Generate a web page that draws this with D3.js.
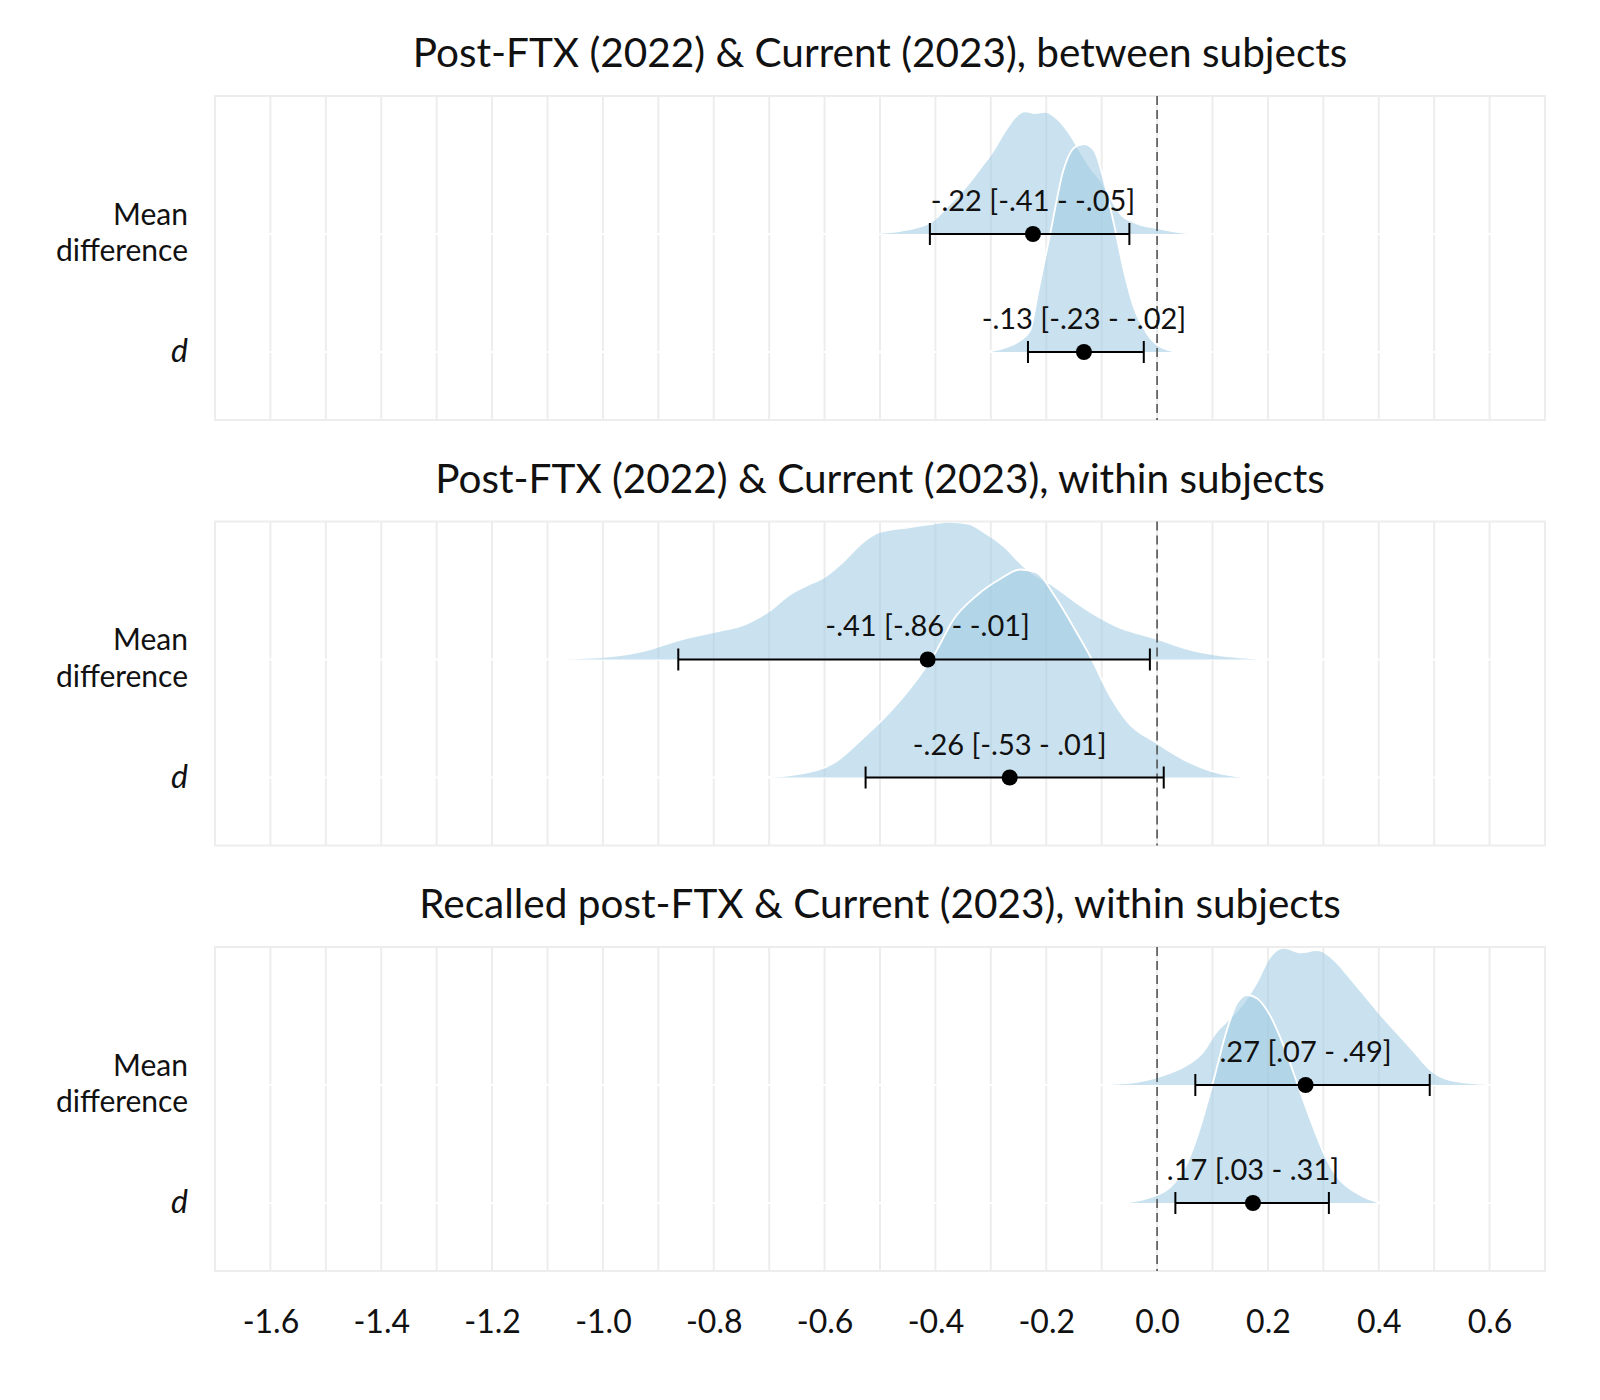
<!DOCTYPE html>
<html>
<head>
<meta charset="utf-8">
<script src="https://cdn.jsdelivr.net/npm/d3@7"></script>
<style>
  html, body { margin: 0; padding: 0; background: #fff; }
  text { font-family: "Lato", "Open Sans", sans-serif; }
</style>
</head>
<body>
<svg id="chart" width="1600" height="1400"></svg>
<script>
// ---------------- DATA ----------------
const panelTitles = [
  "Post-FTX (2022) & Current (2023), between subjects",
  "Post-FTX (2022) & Current (2023), within subjects",
  "Recalled post-FTX & Current (2023), within subjects"
];
const rowLabels = ["Mean difference", "d"];

// point estimates and interval bounds per panel
const meanDiffEst  = [-0.224, -0.414, 0.268];
const meanDiffLow  = [-0.41, -0.864, 0.069];
const meanDiffHigh = [-0.05, -0.013, 0.492];
const dEst  = [-0.132, -0.266, 0.173];
const dLow  = [-0.233, -0.526, 0.033];
const dHigh = [-0.024, 0.012, 0.31];

const meanDiffLabels = ["-.22 [-.41 - -.05]", "-.41 [-.86 - -.01]", ".27 [.07 - .49]"];
const dLabels        = ["-.13 [-.23 - -.02]", "-.26 [-.53 - .01]", ".17 [.03 - .31]"];

// density curves: [value, relative density (panel max = 100)]
const meanDiffDensity1 = [[-0.511,0],[-0.463,1.1],[-0.409,5.1],[-0.373,13.9],[-0.343,22.6],[-0.319,30.8],[-0.295,39.4],[-0.271,50],[-0.253,56.3],[-0.238,58.5],[-0.220,57.7],[-0.202,58.3],[-0.184,55.6],[-0.162,49],[-0.144,41.2],[-0.120,31],[-0.102,25],[-0.084,16.3],[-0.066,9],[-0.042,5.2],[0.0,2.4],[0.03,0.8],[0.054,0]];
const dDensity1 = [[-0.310,0],[-0.271,2.4],[-0.247,5.6],[-0.229,10.4],[-0.214,29.7],[-0.193,56.7],[-0.169,87.4],[-0.148,98.6],[-0.132,100],[-0.114,97],[-0.096,82.5],[-0.078,61.7],[-0.060,39.3],[-0.042,21.6],[-0.018,8.8],[0.006,2.4],[0.039,0]];
const meanDiffDensity2 = [[-1.071,0],[-0.988,1.1],[-0.922,4],[-0.864,8.8],[-0.798,12.8],[-0.740,16.8],[-0.698,23.1],[-0.665,30.3],[-0.632,35.1],[-0.599,39.3],[-0.566,46.5],[-0.533,55.3],[-0.500,60.9],[-0.450,63],[-0.408,64.6],[-0.375,65.7],[-0.342,64.9],[-0.309,60.1],[-0.276,53.7],[-0.243,44.7],[-0.185,34.5],[-0.135,24.9],[-0.077,16],[-0.002,9.6],[0.064,4],[0.130,1.1],[0.180,0]];
const dDensity2 = [[-0.715,0],[-0.649,1.6],[-0.582,7.2],[-0.533,18.4],[-0.483,31.3],[-0.433,47.3],[-0.400,60.1],[-0.367,76.1],[-0.326,87.4],[-0.284,95.3],[-0.247,100],[-0.218,98.6],[-0.185,87.4],[-0.152,72.9],[-0.118,56.9],[-0.085,39.3],[-0.052,26.4],[-0.002,16.8],[0.047,8.8],[0.097,3.2],[0.147,0.5],[0.160,0]];
const meanDiffDensity3 = [[-0.090,0],[-0.036,1.1],[0.012,4.3],[0.054,9.1],[0.084,15.5],[0.108,25.1],[0.132,31.6],[0.156,38.8],[0.180,48.4],[0.205,61.2],[0.229,65.5],[0.259,63.3],[0.289,64.4],[0.319,59.6],[0.343,52.4],[0.373,42.8],[0.403,33.2],[0.433,24.4],[0.463,15.5],[0.493,6.7],[0.529,1.9],[0.596,0]];
const dDensity3 = [[-0.066,0],[-0.018,2.3],[0.024,7.8],[0.054,19.1],[0.078,36.7],[0.102,59.1],[0.126,83.2],[0.144,96],[0.162,100],[0.180,98.4],[0.205,89.6],[0.229,75.1],[0.253,57.5],[0.277,39.9],[0.301,23.9],[0.325,12.6],[0.361,4.7],[0.397,0.6],[0.409,0]];

const xDomain = [-1.7, 0.7];
const xTicks = [-1.6, -1.4, -1.2, -1.0, -0.8, -0.6, -0.4, -0.2, 0.0, 0.2, 0.4, 0.6];

// -------------- LAYOUT --------------
const svg = d3.select("#chart");
svg.append("rect").attr("width", 1600).attr("height", 1400).attr("fill", "#fff");

const plotLeft = 215, plotRight = 1545;
const panelTop0 = 96, panelStep = 425.5, panelH = 324;

const x = d3.scaleLinear().domain(xDomain).range([plotLeft, plotRight]);
// row index: 1 = d, 2 = Mean difference
const y = d3.scaleLinear().domain([0.424, 3.169]).range([panelH, 0]);
const dens = d3.scaleLinear().domain([0, 100]).range([0, 208]);

const gridCol = "#ededed";
const fillCol = "#9ecae1";
const fillOp = 0.55;

const panels = [0, 1, 2].map(i => ({
  title: panelTitles[i],
  rows: [
    { label: rowLabels[0], row: 2, est: meanDiffEst[i], lo: meanDiffLow[i], hi: meanDiffHigh[i], text: meanDiffLabels[i],
      density: [meanDiffDensity1, meanDiffDensity2, meanDiffDensity3][i] },
    { label: rowLabels[1], row: 1, est: dEst[i], lo: dLow[i], hi: dHigh[i], text: dLabels[i],
      density: [dDensity1, dDensity2, dDensity3][i] }
  ]
}));

panels.forEach((p, i) => {
  const top = panelTop0 + i * panelStep;
  const g = svg.append("g").attr("transform", `translate(0,${top})`);

  // title
  g.append("text")
    .attr("x", (plotLeft + plotRight) / 2).attr("y", -29)
    .attr("text-anchor", "middle")
    .attr("font-size", 40.5).attr("fill", "#111")
    .text(p.title);

  // vertical grid
  g.append("g").selectAll("line").data(x.ticks(24)).join("line")
    .attr("x1", d => x(d)).attr("x2", d => x(d))
    .attr("y1", 0).attr("y2", panelH)
    .attr("stroke", gridCol).attr("stroke-width", 2);

  // panel border
  g.append("rect").attr("x", plotLeft).attr("y", 0)
    .attr("width", plotRight - plotLeft).attr("height", panelH)
    .attr("fill", "none").attr("stroke", gridCol).attr("stroke-width", 2);

  // white row lines
  g.append("g").selectAll("line").data(p.rows).join("line")
    .attr("x1", plotLeft + 1).attr("x2", plotRight - 1)
    .attr("y1", d => y(d.row)).attr("y2", d => y(d.row))
    .attr("stroke", "#fff").attr("stroke-width", 2);

  // y labels
  p.rows.forEach(r => {
    if (r.label === "d") {
      g.append("text").attr("text-anchor", "end").attr("font-size", 32).attr("fill", "#111")
        .attr("x", 188).attr("y", y(r.row) + 10).attr("font-style", "italic").text(r.label);
    } else {
      const words = r.label.split(" ");
      g.append("text").attr("text-anchor", "end").attr("font-size", 30).attr("fill", "#111")
        .attr("x", 188).attr("y", y(r.row) - 9).text(words[0]);
      g.append("text").attr("text-anchor", "end").attr("font-size", 30).attr("fill", "#111")
        .attr("x", 188).attr("y", y(r.row) + 27.5).text(words[1]);
    }
  });

  // densities (mean difference first, then d on top)
  p.rows.forEach(r => {
    const base = y(r.row);
    const area = d3.area()
      .x(d => x(d[0])).y0(base).y1(d => base - dens(d[1]))
      .curve(d3.curveMonotoneX);
    const line = d3.line()
      .x(d => x(d[0])).y(d => base - dens(d[1]))
      .curve(d3.curveMonotoneX);
    g.append("path").datum(r.density).attr("d", area)
      .attr("fill", fillCol).attr("fill-opacity", fillOp);
    if (r.row === 1) {
      g.append("path").datum(r.density).attr("d", line)
        .attr("fill", "none").attr("stroke", "#fff").attr("stroke-width", 1.8);
    }
  });

  // zero reference line
  g.append("line")
    .attr("x1", x(0)).attr("x2", x(0)).attr("y1", 0).attr("y2", panelH)
    .attr("stroke", "#555").attr("stroke-width", 1.6).attr("stroke-dasharray", "9,5");

  // intervals, points and labels
  p.rows.forEach(r => {
    const yy = y(r.row);
    g.append("line").attr("x1", x(r.lo)).attr("x2", x(r.hi)).attr("y1", yy).attr("y2", yy)
      .attr("stroke", "#000").attr("stroke-width", 2);
    [r.lo, r.hi].forEach(v => {
      g.append("line").attr("x1", x(v)).attr("x2", x(v)).attr("y1", yy - 11).attr("y2", yy + 11)
        .attr("stroke", "#000").attr("stroke-width", 2);
    });
    g.append("circle").attr("cx", x(r.est)).attr("cy", yy).attr("r", 8).attr("fill", "#000");
    g.append("text").attr("x", x(r.est)).attr("y", yy - 23)
      .attr("text-anchor", "middle").attr("font-size", 29).attr("fill", "#111")
      .text(r.text);
  });
});

// x axis under the last panel
const axisY = panelTop0 + 2 * panelStep + panelH;
const axis = d3.axisBottom(x).tickValues(xTicks)
  .tickFormat(d => d3.format(".1f")(d).replace("\u2212", "-"))
  .tickSize(0).tickPadding(39);
const ax = svg.append("g").attr("transform", `translate(0,${axisY})`).call(axis);
ax.select(".domain").remove();
ax.selectAll("text").attr("font-size", 32).attr("fill", "#111")
  .style("font-family", '"Lato", "Open Sans", sans-serif');
</script>
</body>
</html>
